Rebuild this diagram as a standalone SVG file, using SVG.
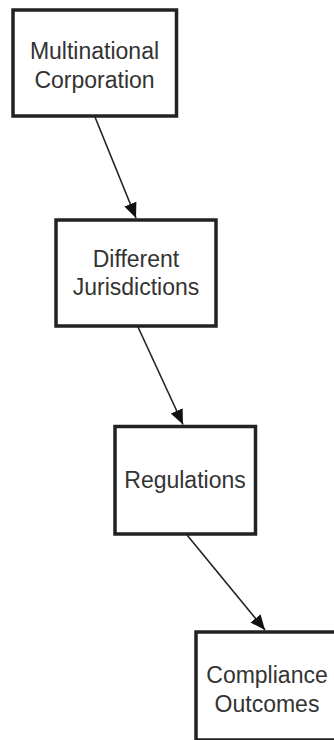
<svg xmlns="http://www.w3.org/2000/svg" width="334" height="740" viewBox="0 0 334 740">
<defs>
<style>
.box{fill:#ffffff;stroke:#222222;stroke-width:3.5}
.lbl{font-family:"Liberation Sans",Arial,sans-serif;font-size:23px;fill:#333333;text-anchor:middle}
.edge{stroke:#222222;stroke-width:1.6;fill:none}
</style>
<marker id="arr" markerUnits="userSpaceOnUse" markerWidth="16" markerHeight="14" refX="15" refY="7" orient="auto">
<path d="M0,0.5 L15,7 L0,13.5 z" fill="#111111"/>
</marker>
</defs>
<rect width="334" height="740" fill="#ffffff"/>
<g id="edges">
<line class="edge" x1="95" y1="117" x2="136" y2="218" marker-end="url(#arr)"/>
<line class="edge" x1="138" y1="327" x2="183" y2="424.5" marker-end="url(#arr)"/>
<line class="edge" x1="187" y1="535" x2="265" y2="630" marker-end="url(#arr)"/>
</g>
<g id="n1">
<rect class="box" x="13" y="10" width="163.5" height="106"/>
<text class="lbl" x="94.5" y="59">Multinational</text>
<text class="lbl" x="94.5" y="88">Corporation</text>
</g>
<g id="n2">
<rect class="box" x="56" y="220" width="160" height="106"/>
<text class="lbl" x="136" y="266.5">Different</text>
<text class="lbl" x="136" y="295">Jurisdictions</text>
</g>
<g id="n3">
<rect class="box" x="115" y="426.5" width="140.5" height="107.5"/>
<text class="lbl" x="185" y="488">Regulations</text>
</g>
<g id="n4">
<rect class="box" x="196" y="632" width="140" height="108"/>
<text class="lbl" x="267" y="683">Compliance</text>
<text class="lbl" x="267" y="711.5">Outcomes</text>
</g>
</svg>
